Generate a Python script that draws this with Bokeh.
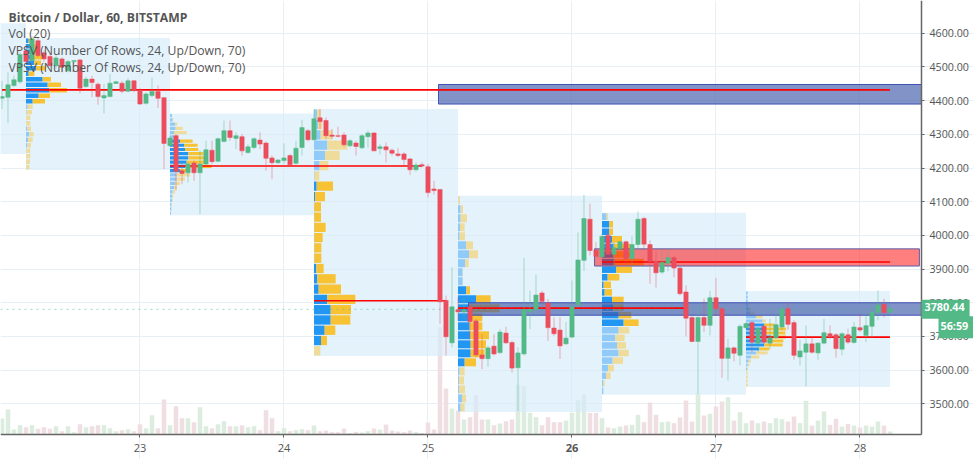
from bokeh.plotting import figure
from bokeh.models import Range1d, FixedTicker, Label, NumeralTickFormatter, ColumnDataSource
from bokeh.embed import file_html
from bokeh.resources import INLINE

first_hour = -23
opens = [4407,4410,4445,4456,4548,4519,4578,4542,4531,4504,4524,4489,4516,4521,4442,4464,4449,4408,4412,4451,4452,4428,4459,
 4432,4392,4415,4427,4409,4266,4296,4192,4186,4215,4186,4212,4253,4220,4279,4311,4288,4293,4246,4261,4283,4274,4230,4216,4222,4237,4214,4261,4311,4284,
 4349,4341,4298,4296,4298,4266,4274,4260,4293,4304,4258,4263,4253,4242,4242,4227,4195,4210,4204,4138,4136,
 3807,3681,3779,3773,3788,3746,3645,3634,3671,3652,3710,3682,3607,3648,3774,3780,3829,3799,3725,3719,3678,3698,3794,
 3926,4048,3955,3936,4000,3944,3960,3981,3931,3973,4050,3973,3924,3891,3917,3934,3903,3832,3756,3685,3756,3733,3815,3782,3635,3666,3644,3726,3741,3680,3730,3680,3696,3728,3782,3741,3639,3653,3678,3651,3680,3708,3705,3662,3705,3682,3726,3703,3730,3772,3795,3772]
closes = [4412,4447,4462,4537,4516,4583,4534,4524,4504,4527,4499,4516,4519,4437,4464,4454,4412,4415,4452,4456,4428,4459,4430,
 4390,4420,4427,4407,4273,4289,4190,4184,4212,4186,4212,4254,4219,4287,4311,4291,4296,4251,4263,4287,4271,4229,4216,4224,4230,4210,4259,4320,4284,4346,
 4338,4296,4294,4294,4269,4281,4264,4296,4304,4251,4263,4254,4244,4237,4225,4195,4209,4206,4127,4133,3803,
 3699,3788,3773,3779,3744,3645,3634,3666,3648,3713,3681,3606,3651,3780,3780,3823,3804,3726,3708,3672,3695,3788,3927,
 4050,3955,3938,3997,3944,3963,3981,3931,3973,4048,3974,3923,3889,3920,3934,3903,3827,3754,3685,3756,3733,3815,3782,3635,3666,3650,3730,3738,3683,3723,3683,3696,3735,3782,3736,3644,3657,3678,3653,3680,3711,3698,3664,3708,3683,3728,3719,3732,3772,3793,3771,3782]
highs = [4459,4484,4474,4544,4568,4593,4586,4549,4539,4534,4529,4521,4521,4524,4471,4474,4454,4449,4479,4459,4459,4467,4461,
 4438,4425,4469,4445,4410,4296,4301,4212,4217,4222,4252,4281,4281,4291,4341,4341,4306,4301,4271,4291,4306,4279,4237,4227,4273,4242,4281,4343,4316,4375,
 4375,4350,4316,4323,4306,4286,4281,4301,4311,4306,4271,4276,4258,4259,4247,4230,4217,4217,4212,4162,4138,
 3821,3905,3816,3816,3796,3752,3707,3673,3707,3722,3729,3687,3668,3933,3836,3883,3836,3811,3757,3757,3743,3866,4009,
 4120,4094,3980,4005,4015,3980,3985,3985,3997,4071,4055,3985,3954,3954,3962,3938,3908,3852,3762,3789,3812,3835,3873,3787,3693,3670,3736,3743,3746,3728,3736,3752,3772,3787,3802,3748,3690,3733,3700,3683,3752,3733,3710,3713,3723,3743,3767,3765,3792,3837,3812,3787]
lows = [4375,4333,4440,4450,4509,4514,4529,4514,4499,4494,4484,4484,4509,4422,4438,4410,4388,4362,4410,4450,4422,4425,4425,
 4388,4388,4410,4378,4197,4261,4133,4152,4157,4162,4063,4207,4212,4217,4276,4281,4256,4237,4242,4256,4256,4192,4167,4212,4212,4207,4210,4237,4279,4281,
 4316,4286,4286,4291,4263,4261,4237,4256,4261,4250,4240,4217,4237,4232,4209,4180,4189,4202,4113,4121,3737,
 3643,3668,3747,3752,3692,3638,3603,3610,3643,3648,3677,3593,3479,3643,3722,3759,3781,3687,3702,3633,3675,3695,3786,
 3895,3941,3936,3931,3941,3906,3955,3911,3911,3960,3957,3856,3845,3886,3893,3876,3822,3700,3683,3530,3713,3703,3762,3577,3569,3626,3614,3723,3653,3653,3678,3663,3693,3718,3720,3631,3614,3552,3649,3631,3676,3693,3637,3644,3678,3678,3713,3683,3696,3748,3757,3769]
volumes = [48,75,15,28,22,28,17,22,17,25,10,25,7,31,22,25,28,28,19,10,13,16,10,
 31,19,58,19,105,28,85,49,49,37,82,25,19,31,40,25,25,28,22,25,13,73,49,10,19,10,13,16,13,27,
 10,12,7,7,18,4,8,6,10,18,15,30,12,9,7,12,7,4,36,15,322,
 138,78,72,45,52,118,45,45,28,33,40,45,150,145,65,52,28,52,37,37,42,65,103,
 120,65,65,49,21,19,24,27,29,59,37,96,59,37,39,34,51,102,39,124,57,62,84,99,112,42,67,34,42,34,39,34,49,46,39,54,34,101,27,42,69,29,47,24,32,27,21,27,24,39,27,9]

session_names = ["S1","S2","S3","S4","S5","S6"]
session_start = [-19,5,29,53,77,101]
session_top = [4586,4362,4375,4118,4067,3835]
session_bottom = [4194,4060,3642,3476,3527,3550]
session_poc = [4432,4206,3806,3784,3921,3698]
poc_from = [-23,5,29,53,77,101]
poc_to = [125,47,51,91,125,125]
value_area_first = [0,6,7,10,1,8]
value_area_last = [11,13,22,18,14,14]

s1_up = [8,12,20,22,25,30,8,50,65,70,38,20,5,2,1,1,4,10,6,4,1,1,1,1]
s1_all = [25,35,38,50,45,60,25,75,105,123,72,57,20,18,13,13,15,23,20,15,13,13,12,10]
s2_up = [6,8,15,17,12,12,30,42,45,55,55,50,45,30,20,20,15,12,8,6,6,4,4,3]
s2_all = [6,10,22,38,50,25,68,83,85,100,110,110,125,55,60,45,30,20,15,10,8,6,5,3]
s3_up = [9,12,20,40,33,17,2,8,3,1,1,1,1,1,1,7,10,14,40,50,50,32,21,0]
s3_all = [20,25,55,100,77,43,16,57,33,21,21,35,26,22,22,29,65,81,124,111,109,64,39,19]
s4_up = [1,8,8,6,5,24,33,22,14,14,25,54,33,33,35,37,38,38,20,5,3,3,12,8]
s4_all = [6,15,27,20,21,45,60,32,15,15,36,98,125,73,73,93,84,80,54,20,18,21,24,20]
s5_up = [14,22,22,30,35,35,38,42,17,5,8,30,33,50,65,50,40,45,50,32,18,12,3,4]
s5_all = [18,33,33,60,85,95,125,90,52,27,30,65,65,88,110,82,68,72,80,63,36,26,8,4]
s6_up = [5,5,5,5,10,12,30,50,55,60,60,75,62,55,40,30,15,8,5,3,0,0,0,0]
s6_all = [5,5,5,8,15,25,50,60,85,120,118,120,112,110,70,65,40,15,10,6,5,5,5,5]
profile_up = [s1_up,s2_up,s3_up,s4_up,s5_up,s6_up]
profile_all = [s1_all,s2_all,s3_all,s4_all,s5_all,s6_all]

early_session_from = -43
early_session_to = -19
early_session_top = 4630
early_session_bottom = 4242

zone_names = ["upper blue","lower blue","red"]
zone_from = [49.75,54.75,75.75]
zone_to = [130.25,130.25,129.9]
zone_top = [4448,3800,3960]
zone_bottom = [4390,3763,3909]

price_ticks = [3500,3600,3700,3800,3900,4000,4100,4200,4300,4400,4500,4600]
day_ticks = [0,24,48,72,96,120]
day_labels = ["23","24","25","","27","28"]
bold_day_label = "26"
bold_day_tick = 72
last_price = 3780.44
last_price_text = "3780.44"
countdown_text = "56:59"
title_lines = ["Bitcoin / Dollar, 60, BITSTAMP","Vol (20)","VPSV (Number Of Rows, 24, Up/Down, 70)","VPSV (Number Of Rows, 24, Up/Down, 70)"]

UP = "#53b987"
DOWN = "#eb4d5c"
VOL_UP = "#dcecdf"
VOL_DOWN = "#f0dfe2"
FONT = "Open Sans"
TEXT = "#555555"
PX_PER_HOUR = 6.0
ROW_GAP = 3.0
PLOT_RIGHT = 130.25
PLOT_BOTTOM = 3408.8
PLOT_TOP = 4697.4
PLOT_LEFT = -23.25

hours = [first_hour + i for i in range(len(opens))]

p = figure(width=973, height=459, output_backend="svg", toolbar_location=None,
           x_range=Range1d(PLOT_LEFT, 138.917), y_range=Range1d(3334.6, PLOT_TOP),
           y_axis_location="right", min_border_left=0, min_border_right=0,
           min_border_top=0, min_border_bottom=0, background_fill_color="#ffffff",
           outline_line_color=None)
p.extra_y_ranges = {"vol": Range1d(-75, 1302)}

ax = p.yaxis[0]
ax.fixed_location = PLOT_RIGHT
ax.bounds = (PLOT_BOTTOM, PLOT_TOP)
ax.ticker = FixedTicker(ticks=price_ticks)
ax.formatter = NumeralTickFormatter(format="0.00")
ax.axis_line_color = "#666666"; ax.axis_line_width = 1.5
ax.major_tick_line_color = "#666666"; ax.major_tick_out = 3; ax.major_tick_in = 0
ax.minor_tick_line_color = None
ax.major_label_text_font = FONT; ax.major_label_text_font_size = "10.7px"
ax.major_label_text_color = TEXT; ax.major_label_standoff = 5

bx = p.xaxis[0]
bx.fixed_location = PLOT_BOTTOM
bx.bounds = (PLOT_LEFT, PLOT_RIGHT)
bx.ticker = FixedTicker(ticks=day_ticks)
bx.major_label_overrides = {t: s for t, s in zip(day_ticks, day_labels)}
bx.axis_line_color = "#666666"; bx.axis_line_width = 1.5
bx.major_tick_line_color = "#666666"; bx.major_tick_out = 3; bx.major_tick_in = 0
bx.minor_tick_line_color = None
bx.major_label_text_font = FONT; bx.major_label_text_font_size = "11px"
bx.major_label_text_color = TEXT; bx.major_label_standoff = 6

p.xgrid.ticker = FixedTicker(ticks=day_ticks)
p.ygrid.ticker = FixedTicker(ticks=price_ticks)
p.xgrid.bounds = (PLOT_BOTTOM, PLOT_TOP)
p.ygrid.bounds = (PLOT_LEFT, PLOT_RIGHT)
p.xgrid.grid_line_color = "#e8eff4"
p.ygrid.grid_line_color = "#e8eff4"

# volume
p.vbar(x=hours, top=volumes, bottom=0, width=0.76, y_range_name="vol",
       fill_color=[VOL_UP if c >= o else VOL_DOWN for o, c in zip(opens, closes)],
       line_color=None)

# session backgrounds
p.quad(left=[early_session_from], right=[early_session_to], top=[early_session_top],
       bottom=[early_session_bottom], fill_color="#d6ebfa", fill_alpha=0.65, line_color=None)
p.quad(left=session_start, right=[s + 24 for s in session_start], top=session_top,
       bottom=session_bottom, fill_color="#d6ebfa", fill_alpha=0.65, line_color=None)

# volume profiles
for i, start in enumerate(session_start):
    n = len(profile_up[i])
    rh = (session_top[i] - session_bottom[i]) / n
    ys, lu, ru, ry, cu, cy = [], [], [], [], [], []
    for r in range(n):
        ys.append(session_top[i] - rh * (r + 0.5))
        blue_end = start + profile_up[i][r] / 3 / PX_PER_HOUR
        all_end = start + profile_all[i][r] / 3 / PX_PER_HOUR
        ru.append(blue_end); ry.append(all_end); lu.append(start)
        inside = value_area_first[i] <= r <= value_area_last[i]
        cu.append("#2196f3" if inside else "#90caf9")
        cy.append("#f7c335" if inside else "#efdc9b")
    h = rh - ROW_GAP
    p.hbar(y=ys, left=lu, right=ru, height=h, fill_color=cu, line_color=None)
    p.hbar(y=ys, left=ru, right=ry, height=h, fill_color=cy, line_color=None)

# zones
p.quad(left=zone_from[:2], right=zone_to[:2], top=zone_top[:2], bottom=zone_bottom[:2],
       fill_color="#3f5ba9", fill_alpha=0.65, line_color="#3f51b5", line_width=1)
p.quad(left=zone_from[2:], right=zone_to[2:], top=zone_top[2:], bottom=zone_bottom[2:],
       fill_color="#ff0000", fill_alpha=0.5, line_color="#5c5fa8", line_width=1)

# POC lines
p.segment(x0=poc_from, x1=poc_to, y0=session_poc, y1=session_poc, line_color="#ff0000",
          line_width=1.6)

# last price line
p.segment(x0=[PLOT_LEFT], x1=[PLOT_RIGHT], y0=[last_price], y1=[last_price], line_color=UP,
          line_alpha=0.55, line_width=1, line_dash="dotted")

# candles
colors = [UP if c >= o else DOWN for o, c in zip(opens, closes)]
src = ColumnDataSource(dict(x=hours, o=opens, c=closes, h=highs, l=lows, col=colors))
p.segment(x0="x", x1="x", y0="l", y1="h", line_color="col", line_alpha=0.45, line_width=1, source=src)
p.vbar(x="x", top="c", bottom="o", width=0.72, fill_color="col", line_color="col", line_width=0.5, source=src)

# header text
for txt, yy, bold in zip(title_lines, [442, 426, 409, 392], [True, False, False, False]):
    p.add_layout(Label(x=8, y=yy, x_units="screen", y_units="screen", text=txt,
                       text_font=FONT, text_font_size="12.2px", text_color=TEXT,
                       text_baseline="middle", text_align="left",
                       text_font_style="bold" if bold else "normal"))

# bold day label
p.add_layout(Label(x=bold_day_tick, y=PLOT_BOTTOM, y_offset=-13, text=bold_day_label, text_font=FONT,
                   text_font_size="11px", text_color=TEXT, text_font_style="bold",
                   text_align="center", text_baseline="middle"))

# price and countdown boxes
p.add_layout(Label(x=PLOT_RIGHT, y=last_price, x_offset=0, text=last_price_text, text_font=FONT,
                   text_font_size="10.8px", text_color="#ffffff", text_font_style="bold",
                   text_baseline="middle", text_align="left", background_fill_color=UP,
                   padding=(3, 5, 3, 8)))
p.add_layout(Label(x=PLOT_RIGHT, y=last_price, x_offset=17, y_offset=-18, text=countdown_text, text_font=FONT,
                   text_font_size="10.8px", text_color="#ffffff", text_font_style="bold",
                   text_baseline="middle", text_align="left", background_fill_color=UP,
                   padding=(2, 5, 2, 5)))

open("out.html", "w").write(file_html(p, INLINE))
